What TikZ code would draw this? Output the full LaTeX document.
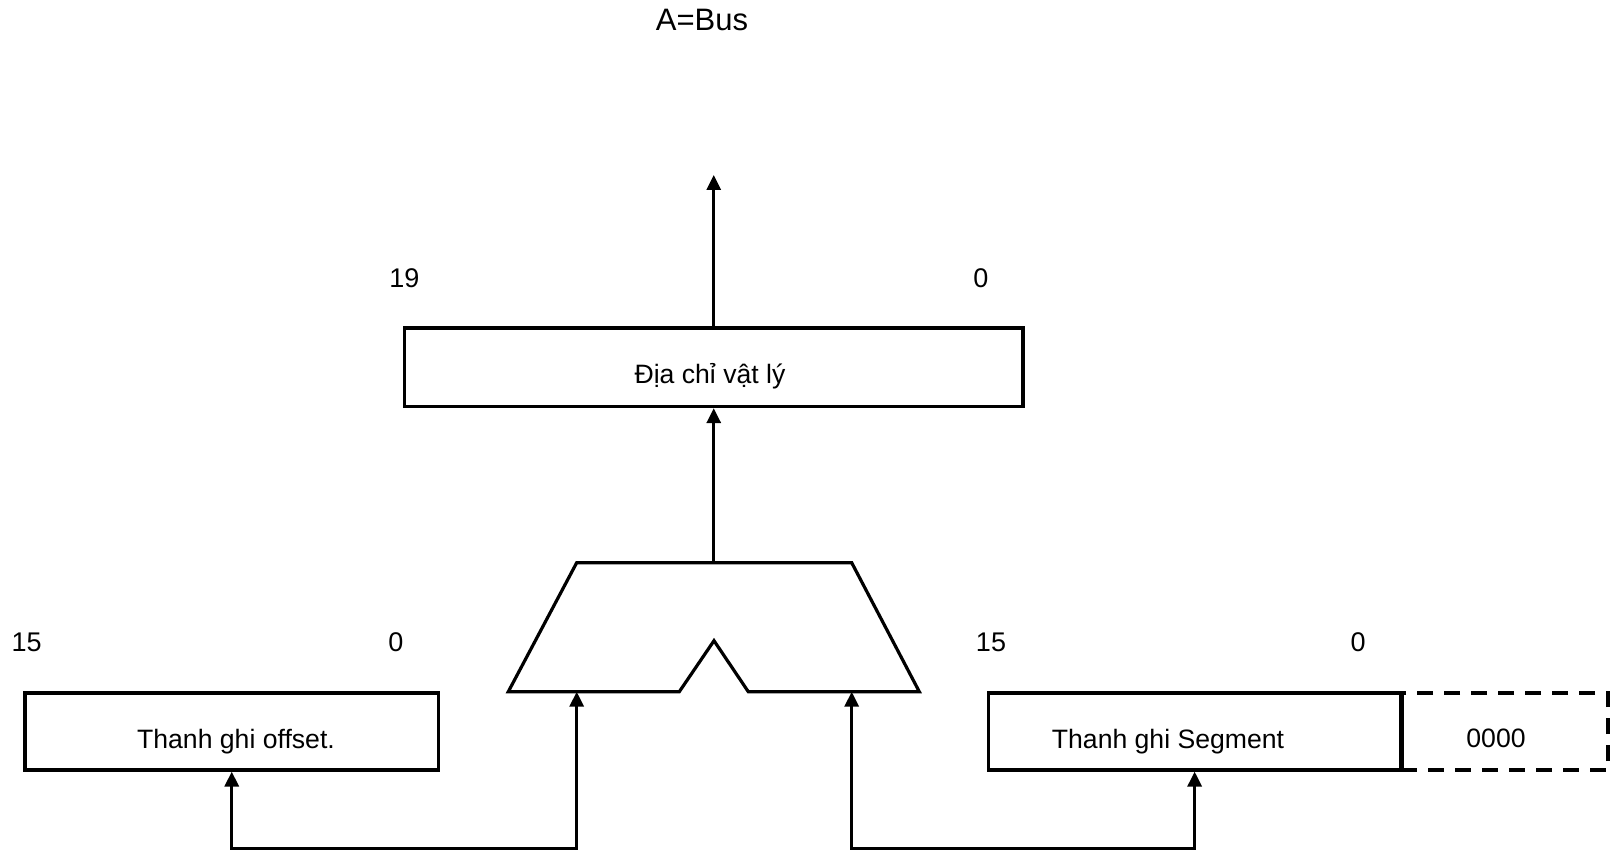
\documentclass[tikz,border=0pt]{standalone}
\usepackage{fontspec}
\setmainfont{Liberation Sans}
\usetikzlibrary{arrows.meta}

\begin{document}
\begin{tikzpicture}[
    x=0.5pt, y=-0.5pt,
    line join=miter,
    wire/.style={line width=1.6pt, {Triangle[length=7.5pt, width=7pt]}-{Triangle[length=7.5pt, width=7pt]}},
    upwire/.style={line width=1.6pt, -{Triangle[length=7.5pt, width=7pt]}},
    reg/.style={draw, line width=1.6pt, inner sep=0pt, minimum height=38.5pt},
    padbox/.style={draw, line width=1.6pt, dash pattern=on 8pt off 5.5pt,
      inner sep=0pt, minimum height=38.5pt},
    lbl/.style={font=\fontsize{13.3pt}{16pt}\selectfont, inner sep=0pt, anchor=base},
    bitnum/.style={font=\fontsize{13.5pt}{16pt}\selectfont, inner sep=0pt, anchor=base}
  ]

\useasboundingbox (0,0) rectangle (1614,850);

% ============================================================
% TOP: physical address register and bus
% ============================================================
\node[lbl, font=\fontsize{15.5pt}{18pt}\selectfont] (abus) at (702,30.5) {A=Bus};

\node[reg, minimum width=309.25pt, minimum height=39.3pt] (phys) at (713.75,367.3) {};
\node[lbl] (physlbl) at (710,384) {Địa chỉ vật lý};
\node[bitnum] (p19) at (404.5,288) {19};
\node[bitnum] (p0) at (981,288) {0};

\coordinate (busend) at (713.75,175);
\draw[upwire] (phys.north) -- (busend);

% ============================================================
% MIDDLE: adder
% ============================================================
\coordinate (aTL) at (576.7,562.7);
\coordinate (aTR) at (851.7,562.7);
\coordinate (aBR) at (919.3,691.7);
\coordinate (aNR) at (748.3,691.7);
\coordinate (aNT) at (714,640.7);
\coordinate (aNL) at (679.3,691.7);
\coordinate (aBL) at (508.3,691.7);

\draw[line width=1.6pt] (aTL) -- (aTR) -- (aBR) -- (aNR) -- (aNT) -- (aNL) -- (aBL) -- cycle;

\coordinate (aout) at (713.75,562.7);
\coordinate (inL) at (576.7,691.7);
\coordinate (inR) at (851.7,691.7);

\draw[upwire] (aout) -- (phys.south);

% ============================================================
% BOTTOM: offset and segment registers
% ============================================================
\node[reg, minimum width=206.75pt] (offset) at (231.75,731.5) {};
\node[lbl] (offlbl) at (236,748) {Thanh ghi offset.};
\node[bitnum] (o15) at (26.7,652) {15};
\node[bitnum] (o0) at (396,652) {0};

\node[reg, minimum width=206.35pt] (seg) at (1194.65,731.5) {};
\node[lbl] (seglbl) at (1168,748) {Thanh ghi Segment};
\node[bitnum] (s15) at (991,652) {15};
\node[bitnum] (s0) at (1358,652) {0};

% shifted-in low nibble
\node[padbox, minimum width=103.5pt] (pad) at (1504.5,731.5) {};
\node[lbl] (padlbl) at (1496,747) {0000};
\draw[line width=1.6pt] (seg.north east) -- (seg.south east);

% feeds into the adder
\draw[wire] (offset.south) -- ++(0,76.5) -| (inL);
\draw[wire] (inR) -- ++(0,156.5) -| (seg.south);

\end{tikzpicture}
\end{document}
